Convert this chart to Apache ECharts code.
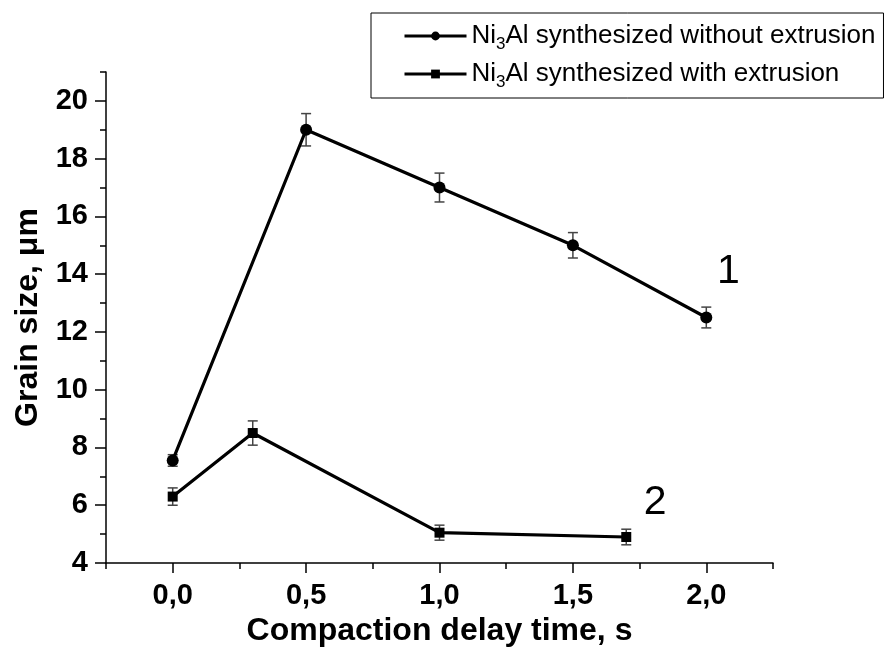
<!DOCTYPE html>
<html><head><meta charset="utf-8">
<script src="https://cdn.jsdelivr.net/npm/echarts@6/dist/echarts.min.js"></script>
<style>html,body{margin:0;padding:0;background:#fff}#c{width:888px;height:652px}</style>
</head><body><div id="c"></div>
<script>
const seriesNames = ['Ni3Al synthesized without extrusion', 'Ni3Al synthesized with extrusion'];
const xWithout = [0, 0.5, 1.0, 1.5, 2.0];
const grainWithout = [7.55, 19.0, 17.0, 15.0, 12.5];
const errWithout = [0.2, 0.56, 0.5, 0.44, 0.36];
const xWith = [0, 0.3, 1.0, 1.7];
const grainWith = [6.3, 8.5, 5.05, 4.9];
const errWith = [0.3, 0.42, 0.26, 0.27];
const curveLabels = ['1', '2'];
const xMajorTicks = [0, 0.5, 1.0, 1.5, 2.0];
const xMinorTicks = [-0.25, 0.25, 0.75, 1.25, 1.75, 2.25];
const yMajorTicks = [4, 6, 8, 10, 12, 14, 16, 18, 20];
const yMinorTicks = [5, 7, 9, 11, 13, 15, 17, 19, 21];
const xTitle = 'Compaction delay time, s';
const yTitle = 'Grain size, \u03bcm';

const FONT = '"Liberation Sans", Arial, sans-serif';
function lineData(xs, ys, label, offset) {
  return xs.map((x, i) => {
    const item = { value: [x, ys[i]] };
    if (i === xs.length - 1) {
      item.label = { show: true, formatter: label, position: 'inside', offset: offset,
        fontSize: 41, fontFamily: FONT, color: '#000' };
    }
    return item;
  });
}
function errData(xs, ys, es) {
  return xs.map((x, i) => [x, ys[i] - es[i], ys[i] + es[i]]);
}
function renderErr(params, api) {
  const x = api.value(0), lo = api.value(1), hi = api.value(2);
  const t = api.coord([x, hi]), b = api.coord([x, lo]);
  const w = 5;
  const st = { stroke: '#444', lineWidth: 1.5 };
  return { type: 'group', children: [
    { type: 'line', shape: { x1: t[0], y1: t[1], x2: b[0], y2: b[1] }, style: st },
    { type: 'line', shape: { x1: t[0] - w, y1: t[1], x2: t[0] + w, y2: t[1] }, style: st },
    { type: 'line', shape: { x1: b[0] - w, y1: b[1], x2: b[0] + w, y2: b[1] }, style: st }
  ]};
}
const fmtX = v => v.toFixed(1).replace('.', ',');
const axisLine = { show: true, onZero: false, lineStyle: { color: '#000', width: 1.5 } };

const chart = echarts.init(document.getElementById('c'), null, { renderer: 'canvas' });
chart.setOption({
  animation: false,
  backgroundColor: '#fff',
  textStyle: { fontFamily: FONT },
  grid: { left: 106, right: 115, top: 72, bottom: 89 },
  legend: {
    orient: 'vertical', left: 371, top: 13,
    data: seriesNames,
    itemWidth: 62, itemHeight: 11, itemGap: 8,
    padding: [10, 8, 7, 32],
    borderColor: '#000', borderWidth: 1,
    lineStyle: { width: 3 },
    formatter: name => '{n|Ni}{s|3}{n|' + name.slice(3) + '}',
    textStyle: {
      color: '#000',
      rich: {
        n: { fontSize: 26, fontFamily: FONT, color: '#000', lineHeight: 34, verticalAlign: 'middle' },
        s: { fontSize: 17, fontFamily: FONT, color: '#000', lineHeight: 17, verticalAlign: 'bottom', padding: [0, 0, 0, 0] }
      }
    }
  },
  xAxis: [{
    type: 'value', min: -0.25, max: 2.25,
    axisLine: axisLine,
    axisTick: { show: true, customValues: xMajorTicks, length: 10, lineStyle: { color: '#000', width: 1.5 } },
    axisLabel: { customValues: xMajorTicks, formatter: fmtX, fontSize: 29, fontWeight: 'bold', color: '#000', margin: 18, fontFamily: FONT },
    splitLine: { show: false },
    name: xTitle, nameLocation: 'middle', nameGap: 52,
    nameTextStyle: { fontSize: 32, fontWeight: 'bold', color: '#000', fontFamily: FONT }
  }, {
    type: 'value', min: -0.25, max: 2.25, position: 'bottom',
    axisLine: { show: false, onZero: false },
    axisTick: { show: true, customValues: xMinorTicks, length: 6, lineStyle: { color: '#000', width: 1.5 } },
    axisLabel: { show: false }, splitLine: { show: false }
  }],
  yAxis: [{
    type: 'value', min: 4, max: 21,
    axisLine: axisLine,
    axisTick: { show: true, customValues: yMajorTicks, length: 11, lineStyle: { color: '#000', width: 1.5 } },
    axisLabel: { customValues: yMajorTicks, fontSize: 29, fontWeight: 'bold', color: '#000', margin: 18, fontFamily: FONT },
    splitLine: { show: false },
    name: yTitle, nameLocation: 'middle', nameGap: 62,
    nameTextStyle: { fontSize: 32, fontWeight: 'bold', color: '#000', fontFamily: FONT }
  }, {
    type: 'value', min: 4, max: 21, position: 'left',
    axisLine: { show: false, onZero: false },
    axisTick: { show: true, customValues: yMinorTicks, length: 6, lineStyle: { color: '#000', width: 1.5 } },
    axisLabel: { show: false }, splitLine: { show: false }
  }],
  series: [
    { type: 'custom', name: 'err1', xAxisIndex: 0, yAxisIndex: 0, renderItem: renderErr,
      data: errData(xWithout, grainWithout, errWithout), encode: { x: 0, y: [1, 2] }, z: 1, silent: true },
    { type: 'custom', name: 'err2', xAxisIndex: 0, yAxisIndex: 0, renderItem: renderErr,
      data: errData(xWith, grainWith, errWith), encode: { x: 0, y: [1, 2] }, z: 1, silent: true },
    { type: 'line', name: seriesNames[0], xAxisIndex: 0, yAxisIndex: 0,
      data: lineData(xWithout, grainWithout, curveLabels[0], [22, -46]),
      symbol: 'circle', symbolSize: 12,
      lineStyle: { color: '#000', width: 3.2 }, itemStyle: { color: '#000' }, z: 3 },
    { type: 'line', name: seriesNames[1], xAxisIndex: 0, yAxisIndex: 0,
      data: lineData(xWith, grainWith, curveLabels[1], [29, -34]),
      symbol: 'rect', symbolSize: 10,
      lineStyle: { color: '#000', width: 3.2 }, itemStyle: { color: '#000' }, z: 3 }
  ]
});
</script>
</body></html>
